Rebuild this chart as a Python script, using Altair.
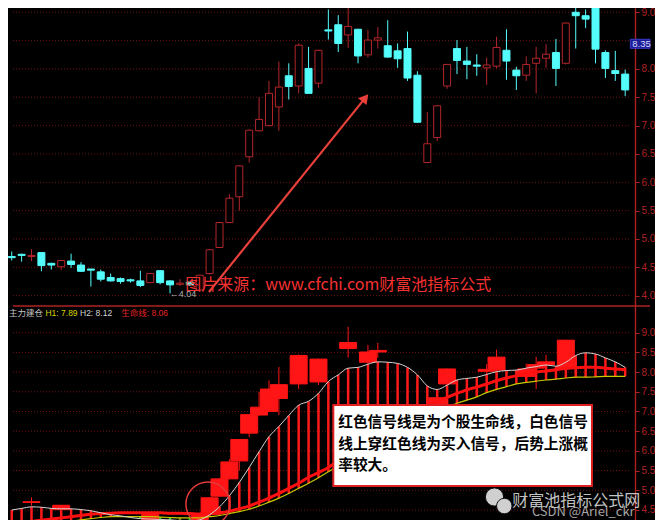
import altair as alt
import pandas as pd

# ---------------- data ----------------
idx = list(range(63))
opens = [4.69, 4.73, 4.69, 4.76, 4.57, 4.51, 4.61, 4.54, 4.47, 4.42,
         4.32, 4.30, 4.28, 4.26, 4.23, 4.44, 4.26, 4.20, 4.24, 4.10,
         4.39, 4.85, 5.29, 5.745, 6.45, 6.91, 7.00, 7.33, 7.88, 7.70,
         8.01, 7.75, 8.69, 8.78, 8.60, 8.70, 8.25, 8.51, 8.41, 8.32,
         8.36, 7.89, 6.35, 6.79, 7.70, 8.36, 8.14, 8.07, 8.02, 8.05,
         8.33, 7.98, 7.89, 8.10, 8.19, 8.29, 8.10, 9.00, 8.94, 9.13,
         8.29, 7.97, 7.91]
closes = [4.67, 4.71, 4.71, 4.53, 4.54, 4.62, 4.55, 4.43, 4.45, 4.29,
          4.26, 4.25, 4.26, 4.18, 4.39, 4.23, 4.19, 4.22, 4.19, 4.36,
          4.81, 5.29, 5.72, 6.29, 6.92, 7.11, 7.57, 7.68, 7.69, 8.42,
          7.57, 8.33, 8.67, 8.45, 8.75, 8.23, 8.51, 8.55, 8.21, 8.18,
          7.84, 7.06, 6.68, 7.35, 8.08, 8.15, 8.08, 8.05, 8.07, 8.38,
          8.14, 7.88, 8.08, 8.19, 8.26, 8.01, 8.81, 8.94, 8.88, 8.35,
          8.01, 7.92, 7.63]
highs = [4.78, 4.74, 4.82, 4.77, 4.58, 4.62, 4.74, 4.59, 4.47, 4.46,
         4.39, 4.32, 4.30, 4.44, 4.40, 4.45, 4.27, 4.29, 4.25, 4.37,
         4.82, 5.30, 5.79, 6.30, 6.93, 7.50, 7.79, 8.13, 8.10, 8.45,
         8.39, 8.34, 9.05, 8.95, 9.15, 8.71, 8.69, 8.74, 8.86, 8.45,
         8.66, 7.96, 7.24, 7.36, 8.09, 8.51, 8.39, 8.26, 8.20, 8.57,
         8.70, 8.04, 8.22, 8.39, 8.44, 8.53, 8.82, 9.22, 9.05, 9.55,
         8.33, 8.32, 7.99]
lows = [4.62, 4.60, 4.61, 4.43, 4.46, 4.45, 4.49, 4.42, 4.16, 4.25,
        4.25, 4.21, 4.23, 4.15, 4.22, 4.20, 4.04, 4.17, 4.17, 4.07,
        4.37, 4.84, 5.28, 5.50, 6.35, 6.90, 6.99, 6.91, 7.46, 7.57,
        7.57, 7.67, 8.52, 8.30, 8.37, 8.10, 8.20, 8.36, 8.20, 8.02,
        7.79, 7.05, 6.34, 6.73, 7.65, 7.91, 7.82, 7.88, 7.72, 8.01,
        7.81, 7.63, 7.79, 7.57, 8.02, 7.70, 8.08, 8.36, 8.72, 8.10,
        7.84, 7.79, 7.52]
h2_white = [4.50, 4.54, 4.58, 4.57, 4.54, 4.53, 4.53, 4.51, 4.48, 4.43,
            4.38, 4.35, 4.31, 4.28, 4.27, 4.26, 4.25, 4.23, 4.22, 4.25,
            4.38, 4.58, 4.86, 5.20, 5.58, 5.98, 6.36, 6.62, 6.90, 7.16,
            7.26, 7.46, 7.76, 7.93, 8.10, 8.12, 8.20, 8.26, 8.25, 8.22,
            8.12, 7.93, 7.65, 7.56, 7.67, 7.80, 7.84, 7.87, 7.94, 8.01,
            8.04, 8.05, 8.10, 8.14, 8.18, 8.15, 8.25, 8.42, 8.49, 8.46,
            8.36, 8.26, 8.12]
life_red = [4.15, 4.18, 4.21, 4.24, 4.27, 4.30, 4.33, 4.36, 4.39, 4.41,
            4.42, 4.43, 4.43, 4.43, 4.43, 4.43, 4.42, 4.42, 4.41, 4.40,
            4.41, 4.43, 4.47, 4.53, 4.60, 4.70, 4.80, 4.92, 5.05, 5.18,
            5.33, 5.45, 5.58, 5.76, 5.95, 6.12, 6.30, 6.48, 6.64, 6.80,
            6.94, 7.06, 7.16, 7.25, 7.36, 7.46, 7.55, 7.62, 7.70, 7.78,
            7.85, 7.91, 7.96, 8.00, 8.03, 8.06, 8.09, 8.11, 8.12, 8.12,
            8.10, 8.08, 8.06]
h1_yellow = [4.08, 4.11, 4.14, 4.16, 4.18, 4.20, 4.22, 4.25, 4.28, 4.31,
             4.33, 4.33, 4.33, 4.33, 4.33, 4.32, 4.31, 4.30, 4.30, 4.30,
             4.33, 4.36, 4.41, 4.46, 4.52, 4.60, 4.70, 4.80, 4.92, 5.05,
             5.18, 5.32, 5.47, 5.62, 5.78, 5.94, 6.10, 6.26, 6.42, 6.57,
             6.71, 6.83, 6.94, 7.03, 7.12, 7.21, 7.29, 7.37, 7.48, 7.56,
             7.63, 7.70, 7.74, 7.77, 7.80, 7.82, 7.85, 7.87, 7.87, 7.88,
             7.89, 7.89, 7.89]
top_grid = [4.0, 4.5, 5.0, 5.5, 6.0, 6.5, 7.0, 7.5, 8.0, 8.5, 9.0]
top_labels = [4.0, 4.5, 5.0, 5.5, 6.0, 6.5, 7.0, 7.5, 8.0, 9.0]   # 8.5 sits under the price tag
bottom_ticks = [4.5, 5.0, 5.5, 6.0, 6.5, 7.0, 7.5, 8.0, 8.5, 9.0]
legend_texts = ["主力建仓", "H1: 7.89", "H2: 8.12", "生命线: 8.06"]
note_lines = ["红色信号线是为个股生命线，白色信号",
              "线上穿红色线为买入信号，后势上涨概",
              "率较大。"]
source_text = "图片来源：www.cfchi.com财富池指标公式"
low_label = "←4.04"
last_label = "8.35"

# ---------------- styling ----------------
CANDLE_RED = "#b3262a"
CYAN = "#54fcfc"
BOX_RED = "#ff1515"
AXIS_RED = "#b02222"
GRID_RED = "#701212"
ARROW = "#e8403a"
CJK = "Noto Sans CJK SC"
X_LO, X_HI, X_PLOT_END = 0.1294, 64.507, 62.52

df = pd.DataFrame({"i": idx, "open": opens, "close": closes, "high": highs,
                   "low": lows, "W": h2_white, "L": life_red, "Y": h1_yellow})
df["dir"] = ["up" if c >= o else "down" for o, c in zip(opens, closes)]
up_df = df[df["dir"] == "up"]

xscale = alt.Scale(domain=[X_LO, X_HI], nice=False, zero=False)
# both panels span the full chart height; each price scale places its own panel
ytop = alt.Scale(domain=[0.041, 9.076], nice=False, zero=False)
ybot = alt.Scale(domain=[4.246, 17.241], nice=False, zero=False)


def yaxis(vals):
    return alt.Axis(orient="right", offset=-20, values=vals, format=".1f", title=None,
                    labelFont="Liberation Sans", labelFontSize=10,
                    labelColor=AXIS_RED, labelPadding=2, tickSize=4,
                    tickColor=AXIS_RED, domainColor=AXIS_RED, domainWidth=1.2,
                    grid=False)


def X(field):
    return alt.X(field, scale=xscale, axis=None)


def YT(field, axis=None):
    return alt.Y(field, scale=ytop, axis=axis)


def YB(field, axis=None):
    return alt.Y(field, scale=ybot, axis=axis)


is_up = "datum.dir == 'up'"

# ---------------- top panel: candles ----------------
grid_top_df = pd.DataFrame({"v": top_grid})
grid_top_df["a"] = X_LO
grid_top_df["b"] = X_PLOT_END
grid_top = alt.Chart(grid_top_df).mark_rule(color=GRID_RED, strokeDash=[1, 2], strokeWidth=1).encode(
    x=X("a:Q"), x2="b:Q", y=YT("v:Q", yaxis(top_labels)))
base = alt.Chart(df).encode(x=X("i:Q"))
wicks = base.mark_rule(clip=True, strokeWidth=1).encode(
    y=YT("low:Q"), y2="high:Q",
    color=alt.condition(is_up, alt.value(CANDLE_RED), alt.value(CYAN)))
bodies = base.mark_bar(size=7, clip=True, strokeWidth=1).encode(
    y=YT("open:Q"), y2="close:Q",
    fill=alt.condition(is_up, alt.value("black"), alt.value(CYAN)),
    stroke=alt.condition(is_up, alt.value(CANDLE_RED), alt.value(CYAN)))

arrow_df = pd.DataFrame({"i0": [19.93], "p0": [4.065], "i1": [35.73], "p1": [7.489]})
arrow_line = alt.Chart(arrow_df).mark_rule(color=ARROW, strokeWidth=2.2).encode(
    x=X("i0:Q"), y=YT("p0:Q"), x2="i1:Q", y2="p1:Q")
arrow_head = alt.Chart(arrow_df).mark_point(shape="triangle-up", filled=True, size=120,
                                            angle=39, color=ARROW, opacity=1).encode(
    x=X("i1:Q"), y=YT("p1:Q"))

src_df = pd.DataFrame({"i": [17.54], "p": [4.188], "t": [source_text]})
src = alt.Chart(src_df).mark_text(align="left", baseline="middle", font=CJK,
                                  fontSize=16, color="#f43232").encode(
    x=X("i:Q"), y=YT("p:Q"), text="t:N")

low_df = pd.DataFrame({"i": [15.97], "p": [4.029], "t": [low_label]})
low_txt = alt.Chart(low_df).mark_text(align="left", baseline="middle", fontSize=9,
                                      font="Liberation Sans", color="#b0b0b0").encode(
    x=X("i:Q"), y=YT("p:Q"), text="t:N")

tag_df = pd.DataFrame({"i0": [X_PLOT_END], "i1": [X_HI], "p0": [8.365], "p1": [8.524],
                       "it": [62.72], "pt": [8.445], "t": [last_label]})
tag_box = alt.Chart(tag_df).mark_rect(fill="#1c1c96", stroke="#3a3ad0", strokeWidth=1).encode(
    x=X("i0:Q"), x2="i1:Q", y=YT("p0:Q"), y2="p1:Q")
tag_txt = alt.Chart(tag_df).mark_text(align="left", baseline="middle", fontSize=9.5,
                                      font="Liberation Sans", color="#d8d8ff").encode(
    x=X("it:Q"), y=YT("pt:Q"), text="t:N")

# ---------------- bottom panel: indicator ----------------
grid_bot_df = pd.DataFrame({"v": bottom_ticks})
grid_bot_df["a"] = X_LO
grid_bot_df["b"] = X_PLOT_END
grid_bot = alt.Chart(grid_bot_df).mark_rule(color=GRID_RED, strokeDash=[1, 2], strokeWidth=1).encode(
    x=X("a:Q"), x2="b:Q", y=YB("v:Q", yaxis(bottom_ticks)))
bb = alt.Chart(df).encode(x=X("i:Q"))
stripes = bb.mark_rule(clip=True, strokeWidth=2.5).encode(
    y=YB("Y:Q"), y2="W:Q",
    color=alt.condition("datum.W >= datum.Y", alt.value("#ff1a1a"), alt.value("#1ed01e")))
ub = alt.Chart(up_df).encode(x=X("i:Q"))
box_wicks = ub.mark_rule(clip=True, strokeWidth=1, color=BOX_RED).encode(
    y=YB("low:Q"), y2="high:Q")
box_bodies = ub.mark_bar(size=17, clip=True, fill=BOX_RED, stroke=BOX_RED, strokeWidth=1).encode(
    y=YB("open:Q"), y2="close:Q")
yellow = bb.mark_line(clip=True, color="#c8c800", strokeWidth=1.2, interpolate="monotone").encode(
    y=YB("Y:Q"))
redline = bb.mark_line(clip=True, color="#ff1010", strokeWidth=3, interpolate="monotone").encode(
    y=YB("L:Q"))
white = bb.mark_line(clip=True, color="#d6d6d6", strokeWidth=1, interpolate="monotone").encode(
    y=YB("W:Q"))

circ_df = pd.DataFrame({"i": [19.83], "p": [4.652]})
circle = alt.Chart(circ_df).mark_point(shape="circle", filled=False, size=1936, clip=True,
                                       color="#e23a3a", strokeWidth=1.5, opacity=1).encode(
    x=X("i:Q"), y=YB("p:Q"))

note_box_df = pd.DataFrame({"i0": [32.5], "i1": [58.64], "p0": [5.109], "p1": [7.165]})
note_box = alt.Chart(note_box_df).mark_rect(fill="white", stroke="#e02020", strokeWidth=2).encode(
    x=X("i0:Q"), x2="i1:Q", y=YB("p0:Q"), y2="p1:Q")
note_df = pd.DataFrame({"i": [33.0, 33.0, 33.0], "p": [6.708, 6.150, 5.629], "t": note_lines})
note = alt.Chart(note_df).mark_text(align="left", baseline="middle", font=CJK, fontSize=14.7,
                                    fontWeight="bold", color="black").encode(
    x=X("i:Q"), y=YB("p:Q"), text="t:N")

leg_df = pd.DataFrame({"i": [-0.27, 3.41, 6.9, 11.07], "p": [9.49] * 4, "t": legend_texts,
                       "c": ["#c4c4c4", "#d4d400", "#d4d4d4", "#e02424"]})
legend = alt.Chart(leg_df).mark_text(align="left", baseline="middle", clip=True,
                                     font="Liberation Sans, " + CJK, fontSize=8.5).encode(
    x=X("i:Q"), y=YB("p:Q"), text="t:N", color=alt.Color("c:N", scale=None))

icon_df = pd.DataFrame({"i": [48.79, 49.78], "p": [4.83, 4.60], "s": [330, 240]})
icon = alt.Chart(icon_df).mark_point(shape="circle", filled=True, color="#d0d0d0",
                                     stroke="#111111", strokeWidth=1, opacity=1).encode(
    x=X("i:Q"), y=YB("p:Q"), size=alt.Size("s:Q", scale=None))
wm_df = pd.DataFrame({"i": [50.58, 52.57], "p": [4.73, 4.449],
                      "t": ["财富池指标公式网", "CSDN @Ariel_ckr"],
                      "c": ["#d8d8d8", "#b8b8b8"], "f": [16, 13]})
wm = alt.Chart(wm_df).mark_text(align="left", baseline="middle", font=CJK, opacity=0.9).encode(
    x=X("i:Q"), y=YB("p:Q"), text="t:N", color=alt.Color("c:N", scale=None),
    size=alt.Size("f:Q", scale=None))

sep_df = pd.DataFrame({"i0": [X_LO], "i1": [X_HI], "p": [9.678]})
sep = alt.Chart(sep_df).mark_rule(color=AXIS_RED, strokeWidth=1.5).encode(
    x=X("i0:Q"), x2="i1:Q", y=YB("p:Q"))

chart = alt.layer(
    grid_top, wicks, bodies, arrow_line, arrow_head, src, low_txt, tag_box, tag_txt,
    grid_bot, stripes, box_wicks, box_bodies, yellow, redline, white, circle,
    note_box, note, legend, icon, wm, sep
).resolve_scale(y="independent").properties(
    width=647, height=512, background="black", padding=0,
    autosize=alt.AutoSizeParams(type="none")).configure_view(stroke=None, fill="black")

chart.save("out.html", embed_options={"renderer": "svg", "actions": False})
